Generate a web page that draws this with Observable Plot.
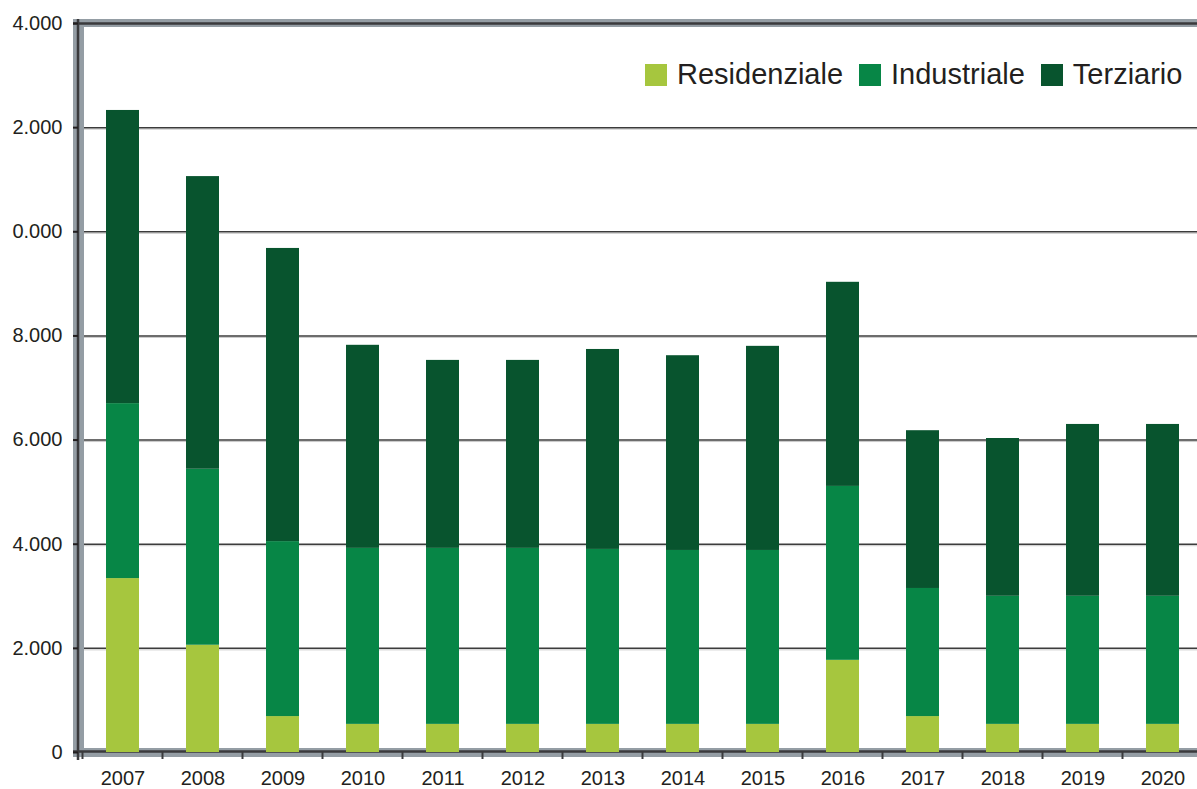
<!DOCTYPE html>
<html>
<head>
<meta charset="utf-8">
<script src="https://cdn.jsdelivr.net/npm/d3@7"></script>
<script src="https://cdn.jsdelivr.net/npm/@observablehq/plot@0.6"></script>
<style>
  html, body { margin: 0; padding: 0; background: #fff; }
  #wrap { position: relative; width: 1197px; height: 789px; overflow: hidden; font-family: "Liberation Sans", Arial, sans-serif; }
  #legend { position: absolute; left: 645px; top: 60px; display: flex; align-items: center; font-size: 29px; color: #231f20; line-height: 1; white-space: nowrap; }
  #legend .sw { width: 22px; height: 22px; margin-right: 10px; flex: none; }
  #legend .lb { margin-right: 16px; }
</style>
</head>
<body>
<div id="wrap"><div id="legend"></div></div>
<script>
const years = ["2007","2008","2009","2010","2011","2012","2013","2014","2015","2016","2017","2018","2019","2020"];
const residenziale = [3340, 2060, 690, 540, 540, 540, 540, 540, 540, 1770, 690, 540, 540, 540];
const industriale  = [3360, 3380, 3360, 3380, 3380, 3380, 3360, 3340, 3340, 3340, 2460, 2460, 2460, 2460];
const terziario    = [5630, 5620, 5630, 3900, 3610, 3610, 3840, 3740, 3920, 3920, 3030, 3030, 3300, 3300];
const seriesNames  = ["Residenziale", "Industriale", "Terziario"];
const seriesColors = ["#a6c63e", "#078646", "#08542e"];
const yTicks       = [0, 2000, 4000, 6000, 8000, 10000, 12000, 14000];
const yTickLabels  = ["0", "2.000", "4.000", "6.000", "8.000", "0.000", "2.000", "4.000"];

const seriesValues = [residenziale, industriale, terziario];
const rows = [];
seriesNames.forEach((s, i) => years.forEach((y, j) => rows.push({year: y, series: s, value: seriesValues[i][j]})));

const ns = "http://www.w3.org/2000/svg";
function el(tag, attrs) {
  const e = document.createElementNS(ns, tag);
  for (const k in attrs) e.setAttribute(k, attrs[k]);
  return e;
}

function frameMark(index, scales, values, dims) {
  const g = el("g", {});
  const x0 = dims.marginLeft;
  const y0 = scales.y(yTicks[0]);
  const yT = scales.y(yTicks[yTicks.length - 1]);
  const W = dims.width;
  const gray = "#949da4";
  const dark = "#3a3a3c";
  g.appendChild(el("rect", {x: x0 - 5, y: yT - 4, width: W, height: 8, fill: gray}));
  g.appendChild(el("rect", {x: x0 - 5, y: yT - 4, width: 11, height: y0 - yT + 9, fill: gray}));
  g.appendChild(el("rect", {x: x0 - 5, y: y0 - 4, width: W, height: 9, fill: gray}));
  g.appendChild(el("line", {x1: x0 - 5, x2: W, y1: yT + 0.5, y2: yT + 0.5, stroke: dark, "stroke-width": 2.5}));
  g.appendChild(el("line", {x1: x0, x2: x0, y1: yT - 4, y2: y0 + 8, stroke: dark, "stroke-width": 2.5}));
  g.appendChild(el("line", {x1: x0 - 5, x2: W, y1: y0 - 0.5, y2: y0 - 0.5, stroke: dark, "stroke-width": 2.5}));
  // band boundary ticks below the x axis
  const step = scales.x(years[1]) - scales.x(years[0]);
  const bw = scales.x.bandwidth ? scales.x.bandwidth() : 0;
  const first = scales.x(years[0]) - (step - bw) / 2;
  for (let i = 0; i <= years.length; i++) {
    const bx = first + i * step;
    g.appendChild(el("line", {x1: bx, x2: bx, y1: y0, y2: y0 + 7, stroke: dark, "stroke-width": 2}));
  }
  return g;
}

const chart = Plot.plot({
  width: 1197,
  height: 789,
  marginTop: 23,
  marginBottom: 37,
  marginLeft: 78,
  marginRight: 0,
  style: {fontFamily: "'Liberation Sans', Arial, sans-serif", fontSize: "20px", color: "#231f20", background: "transparent"},
  x: {type: "band", domain: years, range: [79.5, 1205.5], paddingInner: 0.593, paddingOuter: 0.2965, label: null},
  y: {domain: [0, 14000], label: null},
  color: {domain: seriesNames, range: seriesColors},
  marks: [
    Plot.gridY(yTicks.slice(1, -1), {stroke: "#c8c8c8", strokeOpacity: 1, strokeWidth: 1, dy: 1.5}),
    Plot.gridY(yTicks.slice(1, -1), {stroke: "#3c3c3c", strokeOpacity: 1, strokeWidth: 1.5}),
    frameMark,
    Plot.barY(rows, {x: "year", y: "value", fill: "series", order: null}),
    Plot.axisY({ticks: yTicks, tickFormat: (d) => yTickLabels[yTicks.indexOf(d)], tickSize: 5, tickPadding: 11, fontSize: 20, strokeWidth: 2, label: null}),
    Plot.axisX({tickSize: 0, tickPadding: 18, fontSize: 20, label: null})
  ]
});
document.getElementById("wrap").prepend(chart);

const legend = document.getElementById("legend");
seriesNames.forEach((s, i) => {
  const sw = document.createElement("span");
  sw.className = "sw";
  sw.style.background = seriesColors[i];
  const lb = document.createElement("span");
  lb.className = "lb";
  lb.textContent = s;
  legend.appendChild(sw);
  legend.appendChild(lb);
});
</script>
</body>
</html>
